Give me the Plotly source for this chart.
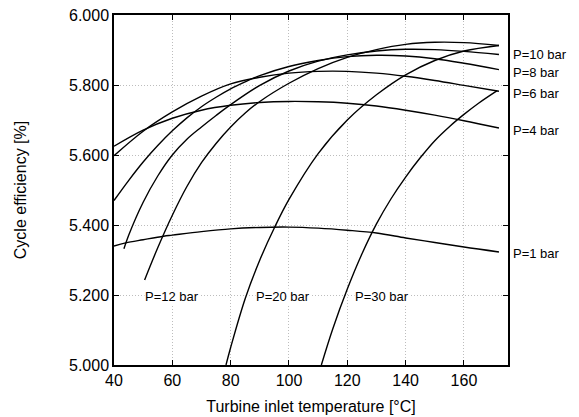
import plotly.graph_objects as go

# ---- data ----
p1_x = [40, 44, 50, 57, 60, 70, 80, 90, 100, 110, 120, 130, 140, 150, 160, 172]
p1_y = [5.340, 5.349, 5.358, 5.368, 5.371, 5.381, 5.389, 5.393, 5.394, 5.391, 5.385, 5.377, 5.363, 5.350, 5.337, 5.323]

p4_x = [40, 50, 60, 70, 80, 90, 100, 110, 120, 130, 140, 150, 160, 172]
p4_y = [5.625, 5.671, 5.705, 5.728, 5.742, 5.750, 5.753, 5.752, 5.748, 5.740, 5.728, 5.714, 5.698, 5.677]

p6_x = [40, 50, 60, 70, 80, 90, 100, 110, 120, 130, 140, 150, 160, 172]
p6_y = [5.598, 5.668, 5.723, 5.768, 5.803, 5.822, 5.834, 5.839, 5.839, 5.834, 5.825, 5.813, 5.799, 5.782]

p8_x = [40, 45, 50, 55, 60, 65, 70, 75, 80, 85, 90, 100, 110, 120, 130, 140, 150, 160, 172]
p8_y = [5.470, 5.527, 5.580, 5.627, 5.669, 5.706, 5.738, 5.765, 5.789, 5.809, 5.827, 5.853, 5.870, 5.881, 5.885, 5.883, 5.875, 5.862, 5.844]

p10_x = [43.4, 45, 50, 55, 60, 65, 70, 75, 80, 90, 100, 110, 120, 130, 140, 150, 160, 172]
p10_y = [5.332, 5.370, 5.465, 5.540, 5.600, 5.645, 5.680, 5.713, 5.744, 5.799, 5.840, 5.868, 5.886, 5.897, 5.902, 5.901, 5.896, 5.887]

p12_x = [50.5, 55, 60, 65, 70, 75, 80, 85, 90, 100, 110, 120, 130, 140, 150, 160, 172]
p12_y = [5.243, 5.335, 5.428, 5.510, 5.578, 5.633, 5.680, 5.720, 5.753, 5.805, 5.847, 5.879, 5.901, 5.916, 5.922, 5.921, 5.913]

p20_x = [78.4, 80, 85, 90, 95, 100, 110, 120, 130, 140, 150, 160, 172]
p20_y = [5.000, 5.050, 5.190, 5.300, 5.392, 5.473, 5.604, 5.700, 5.772, 5.829, 5.870, 5.897, 5.913]

p30_x = [111.1, 115, 120, 125, 130, 135, 140, 145, 150, 155, 160, 165, 171.4]
p30_y = [5.000, 5.103, 5.217, 5.317, 5.403, 5.475, 5.537, 5.592, 5.641, 5.681, 5.716, 5.748, 5.784]

series = [
    (p1_x, p1_y), (p4_x, p4_y), (p6_x, p6_y), (p8_x, p8_y),
    (p10_x, p10_y), (p12_x, p12_y), (p20_x, p20_y), (p30_x, p30_y),
]

# labels on the right of the plot
right_labels = ["P=10 bar", "P=8 bar", "P=6 bar", "P=4 bar", "P=1 bar"]
right_label_y = [5.887, 5.837, 5.777, 5.671, 5.318]

# labels inside the plot
inner_labels = ["P=12 bar", "P=20 bar", "P=30 bar"]
inner_label_x = [50.3, 88.2, 122.3]
inner_label_y = [5.197, 5.197, 5.197]

x_ticks = [40, 60, 80, 100, 120, 140, 160]
y_ticks = [5.0, 5.2, 5.4, 5.6, 5.8, 6.0]

FONT = "Liberation Sans, Arial, Helvetica, sans-serif"

fig = go.Figure()
for xs, ys in series:
    fig.add_trace(go.Scatter(
        x=xs, y=ys, mode="lines",
        line=dict(color="black", width=1.4, shape="spline", smoothing=1.0),
        showlegend=False, hoverinfo="skip",
    ))

for t, yv in zip(right_labels, right_label_y):
    fig.add_annotation(text=t, xref="paper", yref="y", x=1.008, y=yv,
                       xanchor="left", yanchor="middle", showarrow=False,
                       font=dict(family=FONT, size=13, color="black"))

for t, xv, yv in zip(inner_labels, inner_label_x, inner_label_y):
    fig.add_annotation(text=t, xref="x", yref="y", x=xv, y=yv,
                       xanchor="left", yanchor="middle", showarrow=False,
                       bgcolor="white", borderpad=0,
                       font=dict(family=FONT, size=13, color="black"))

axis_common = dict(
    showline=True, linecolor="black", linewidth=1.5, mirror="ticks",
    ticks="inside", ticklen=5, tickwidth=1, tickcolor="black",
    showgrid=True, gridcolor="#bdbdbd", gridwidth=1, griddash="1px,2px",
    zeroline=False, automargin=False, ticklabeloverflow="allow",
    tickfont=dict(family=FONT, size=16, color="black"),
)

fig.update_xaxes(range=[40, 175.1], tickvals=x_ticks,
                 title=dict(text="Turbine inlet temperature [°C]",
                            font=dict(family=FONT, size=16, color="black"), standoff=13),
                 **axis_common)
fig.update_yaxes(range=[5.0, 6.0], tickvals=y_ticks, tickformat=".3f",
                 title=dict(text="Cycle efficiency [%]",
                            font=dict(family=FONT, size=16, color="black"), standoff=38),
                 **axis_common)

# the page adds an 8 px body margin, so the figure is sized to fit the window
fig.update_layout(
    width=571, height=409,
    margin=dict(l=106, r=71, t=7, b=52),
    paper_bgcolor="white", plot_bgcolor="white",
    font=dict(family=FONT, color="black"),
)

fig.write_html("out.html")
